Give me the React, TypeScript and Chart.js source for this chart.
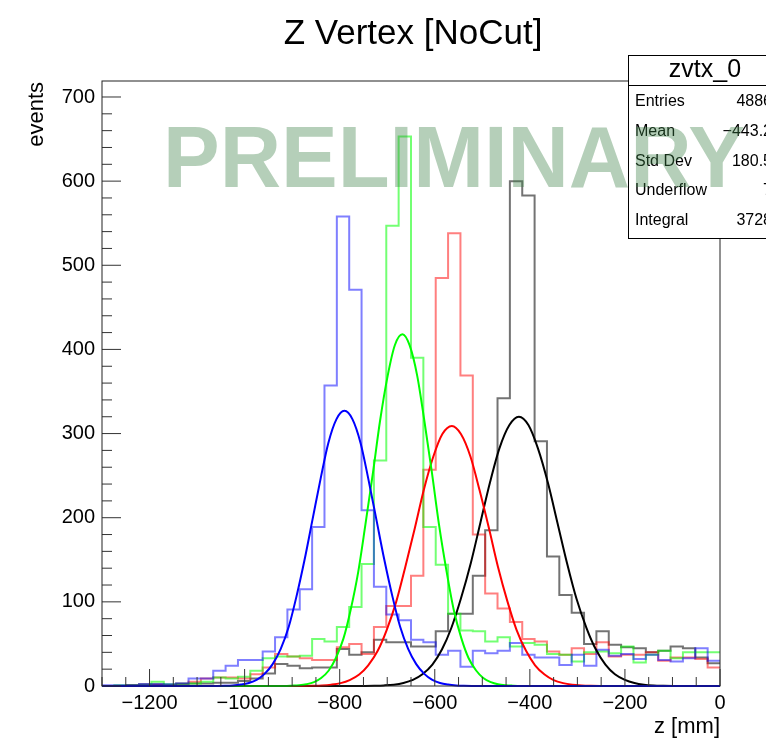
import { useEffect, useRef } from "react";
import { Chart, registerables } from "chart.js";

Chart.register(...registerables);

const FONT = '"Liberation Sans", Arial, Helvetica, sans-serif';

const TITLE = "Z Vertex [NoCut]";
const X_TITLE = "z [mm]";
const Y_TITLE = "events";
const WATERMARK = "PRELIMINARY";

const X_MIN = -1300;
const X_MAX = 0;
const BIN_WIDTH = 26;
const Y_MIN = 0;
const Y_MAX = 719;
const X_TICKS = [-1200, -1000, -800, -600, -400, -200, 0];
const Y_TICKS = [0, 100, 200, 300, 400, 500, 600, 700];
const X_MINOR_STEP = 50;
const Y_MINOR_STEP = 20;

// histogram bin contents (50 bins of 26 mm from -1300 to 0)
const blueCounts = [1, 1, 1, 2, 2, 2, 3, 9, 9, 18, 24, 31, 31, 41, 58, 91, 115, 189, 357, 558, 471, 209, 118, 85, 78, 55, 52, 37, 42, 23, 42, 39, 42, 51, 37, 34, 34, 25, 37, 24, 43, 36, 38, 32, 37, 31, 29, 33, 45, 30];
const greenCounts = [0, 1, 1, 1, 5, 2, 2, 3, 5, 10, 9, 11, 18, 33, 35, 35, 36, 56, 53, 70, 94, 145, 268, 547, 653, 390, 189, 144, 86, 66, 65, 53, 58, 47, 51, 49, 38, 37, 29, 40, 41, 39, 47, 28, 37, 42, 33, 40, 40, 40];
const redCounts = [0, 0, 1, 1, 1, 1, 2, 5, 9, 10, 10, 9, 14, 22, 38, 35, 33, 31, 31, 46, 50, 38, 70, 95, 95, 131, 257, 485, 538, 369, 180, 110, 92, 76, 56, 53, 41, 37, 45, 38, 52, 35, 37, 37, 40, 30, 34, 34, 32, 22];
const blackCounts = [0, 0, 1, 2, 2, 1, 3, 3, 3, 4, 4, 6, 9, 15, 26, 24, 21, 22, 22, 44, 37, 40, 55, 52, 52, 47, 47, 65, 86, 86, 131, 185, 342, 600, 583, 291, 154, 108, 87, 50, 65, 49, 46, 45, 40, 42, 47, 45, 34, 27];

// fit curves
const blueFitX = [-1300, -1058, -1041, -1025, -1008, -991, -974, -958, -941, -924, -907, -891, -874, -857, -840, -824, -807, -790, -773, -756, -740, -723, -706, -689, -673, -656, -639, -622, -606, -589, -572, -555, -539, -522, 0];
const blueFitY = [0, 0.1, 0.3, 0.7, 1.7, 3.6, 7.5, 14.4, 26.0, 44.2, 70.7, 106.2, 149.7, 198.3, 246.8, 288.6, 316.9, 327, 316.9, 288.6, 246.8, 198.3, 149.7, 106.2, 70.7, 44.2, 26.0, 14.4, 7.5, 3.6, 1.7, 0.7, 0.3, 0.1, 0];
const greenFitX = [-1300, -916, -901, -885, -870, -854, -839, -823, -808, -792, -777, -761, -746, -730, -715, -699, -684, -668, -653, -637, -622, -606, -591, -575, -560, -544, -529, -513, -498, -482, -467, -451, -436, -420, 0];
const greenFitY = [0, 0.1, 0.4, 0.9, 2.1, 4.6, 9.5, 18.4, 33.3, 56.6, 90.4, 135.7, 191.4, 253.5, 315.5, 368.9, 405.0, 418, 405.0, 368.9, 315.5, 253.5, 191.4, 135.7, 90.4, 56.6, 33.3, 18.4, 9.5, 4.6, 2.1, 0.9, 0.4, 0.1, 0];
const redFitX = [-1300, -876, -857, -837, -818, -798, -779, -759, -740, -720, -701, -681, -662, -642, -623, -603, -584, -564, -545, -525, -506, -486, -467, -447, -428, -408, -389, -369, -350, -330, -311, -291, -272, -252, 0];
const redFitY = [0, 0.1, 0.3, 0.7, 1.6, 3.4, 7.0, 13.6, 24.6, 41.8, 66.8, 100.3, 141.5, 187.4, 233.2, 272.7, 299.4, 309, 299.4, 272.7, 233.2, 187.4, 141.5, 100.3, 66.8, 41.8, 24.6, 13.6, 7.0, 3.4, 1.6, 0.7, 0.3, 0.1, 0];
const blackFitX = [-1300, -747, -727, -707, -686, -666, -646, -626, -605, -585, -565, -545, -524, -504, -484, -464, -443, -423, -403, -383, -362, -342, -322, -302, -281, -261, -241, -221, -200, -180, -160, -140, -119, -99, 0];
const blackFitY = [0, 0.1, 0.3, 0.7, 1.6, 3.6, 7.3, 14.0, 25.5, 43.3, 69.2, 103.9, 146.5, 194.1, 241.5, 282.4, 310.1, 320, 310.1, 282.4, 241.5, 194.1, 146.5, 103.9, 69.2, 43.3, 25.5, 14.0, 7.3, 3.6, 1.6, 0.7, 0.3, 0.1, 0];

// stats box
const STAT_NAME = "zvtx_0";
const STAT_LABELS = ["Entries", "Mean", "Std Dev", "Underflow", "Integral"];
const STAT_VALUES = ["4886", "\u2212443.2", "180.5", "7", "3728"];

const histPoints = (counts: number[]) => {
  const pts = counts.map((v, i) => ({ x: X_MIN + i * BIN_WIDTH, y: v }));
  pts.push({ x: X_MAX, y: counts[counts.length - 1] });
  return pts;
};
const curvePoints = (xs: number[], ys: number[]) => xs.map((x, i) => ({ x, y: ys[i] }));

const fmt = (v: number) => (v < 0 ? "\u2212" + Math.abs(v) : String(v));

const rootStyle = {
  id: "rootStyle",
  beforeDraw(chart: any) {
    const { ctx, width, height } = chart;
    ctx.save();
    ctx.fillStyle = "#ffffff";
    ctx.fillRect(0, 0, width, height);
    ctx.restore();
  },
  afterDatasetsDraw(chart: any) {
    const { ctx, chartArea: a, scales } = chart;
    const xs = scales.x;
    const ys = scales.y;
    ctx.save();
    ctx.strokeStyle = "#333333";
    ctx.lineWidth = 1;
    ctx.beginPath();
    for (let v = X_MIN; v <= X_MAX; v += X_MINOR_STEP) {
      const px = xs.getPixelForValue(v);
      const len = v % 200 === 0 ? 17 : 9;
      ctx.moveTo(px, a.bottom);
      ctx.lineTo(px, a.bottom - len);
    }
    for (let v = Y_MIN; v <= Y_MAX; v += Y_MINOR_STEP) {
      const py = ys.getPixelForValue(v);
      const len = v % 100 === 0 ? 19 : 10;
      ctx.moveTo(a.left, py);
      ctx.lineTo(a.left + len, py);
    }
    ctx.stroke();
    ctx.strokeStyle = "#222222";
    ctx.strokeRect(a.left, a.top, a.right - a.left, a.bottom - a.top);
    ctx.restore();
  },
  afterDraw(chart: any) {
    const { ctx, chartArea: a } = chart;
    ctx.save();
    ctx.fillStyle = "#000000";
    // title
    ctx.font = `35px ${FONT}`;
    ctx.textAlign = "center";
    ctx.textBaseline = "alphabetic";
    ctx.fillText(TITLE, 413, 44);
    // x title
    ctx.font = `22px ${FONT}`;
    ctx.textAlign = "right";
    ctx.fillText(X_TITLE, a.right, 733);
    // y title
    ctx.save();
    ctx.translate(37, a.top + 1);
    ctx.rotate(-Math.PI / 2);
    ctx.textAlign = "right";
    ctx.textBaseline = "middle";
    ctx.fillText(Y_TITLE, 0, 0);
    ctx.restore();

    // stats box
    const bx = 628, by = 55, bw = 200, bh = 183;
    ctx.fillStyle = "#ffffff";
    ctx.fillRect(bx, by, bw, bh);
    ctx.strokeStyle = "#000000";
    ctx.lineWidth = 1;
    ctx.strokeRect(bx + 0.5, by + 0.5, bw, bh);
    ctx.beginPath();
    ctx.moveTo(bx, 85.5);
    ctx.lineTo(bx + bw, 85.5);
    ctx.stroke();
    ctx.fillStyle = "#000000";
    ctx.font = `25px ${FONT}`;
    ctx.textAlign = "center";
    ctx.textBaseline = "middle";
    ctx.fillText(STAT_NAME, 705, 70);
    ctx.font = `16px ${FONT}`;
    STAT_LABELS.forEach((lab, i) => {
      const cy = 102 + i * 29.6;
      ctx.textAlign = "left";
      ctx.fillText(lab, 635, cy);
      ctx.textAlign = "right";
      ctx.fillText(STAT_VALUES[i], 772, cy);
    });

    // watermark
    ctx.font = `bold 87px ${FONT}`;
    ctx.textAlign = "left";
    ctx.textBaseline = "alphabetic";
    const w = ctx.measureText(WATERMARK).width;
    ctx.translate(163, 187);
    ctx.scale(582 / w, 1);
    ctx.fillStyle = "rgba(60,130,70,0.38)";
    ctx.fillText(WATERMARK, 0, 0);
    ctx.restore();
  },
};

export default function App() {
  const ref = useRef<HTMLCanvasElement>(null);
  useEffect(() => {
    if (!ref.current) return;
    const hist = (label: string, counts: number[], color: string) => ({
      label,
      data: histPoints(counts),
      borderColor: color,
      borderWidth: 2,
      pointRadius: 0,
      fill: false,
      stepped: true,
      order: 10,
    });
    const fit = (label: string, xs: number[], ys: number[], color: string, order: number) => ({
      label,
      data: curvePoints(xs, ys),
      borderColor: color,
      borderWidth: 2,
      pointRadius: 0,
      fill: false,
      cubicInterpolationMode: "monotone",
      order,
      clip: 2,
    });
    const chart = new Chart(ref.current, {
      type: "line",
      data: {
        datasets: [
          hist("blue", blueCounts, "rgba(0,0,255,0.5)"),
          hist("green", greenCounts, "rgba(0,255,0,0.55)"),
          hist("red", redCounts, "rgba(255,0,0,0.5)"),
          hist("black", blackCounts, "rgba(0,0,0,0.55)"),
          fit("black fit", blackFitX, blackFitY, "#000000", 4),
          fit("red fit", redFitX, redFitY, "#ff0000", 3),
          fit("green fit", greenFitX, greenFitY, "#00ff00", 2),
          fit("blue fit", blueFitX, blueFitY, "#0000ff", 1),
        ] as any,
      },
      options: {
        responsive: false,
        animation: false,
        devicePixelRatio: 1,
        events: [],
        layout: { padding: { left: 0, top: 81, right: 46, bottom: 0 } },
        plugins: {
          legend: { display: false },
          tooltip: { enabled: false },
          title: { display: false },
        },
        scales: {
          x: {
            type: "linear",
            min: X_MIN,
            max: X_MAX,
            grid: { display: false, drawTicks: false },
            border: { display: false },
            ticks: {
              color: "#000000",
              font: { family: FONT, size: 20 },
              padding: 5,
              maxRotation: 0,
              autoSkip: false,
              callback: (v: any) => fmt(Number(v)),
            },
            afterBuildTicks: (s: any) => {
              s.ticks = X_TICKS.map((v) => ({ value: v }));
            },
            afterFit: (s: any) => {
              s.height = 52;
            },
          },
          y: {
            type: "linear",
            min: Y_MIN,
            max: Y_MAX,
            grid: { display: false, drawTicks: false },
            border: { display: false },
            ticks: {
              color: "#000000",
              font: { family: FONT, size: 20 },
              padding: 7,
              autoSkip: false,
              callback: (v: any) => String(v),
            },
            afterBuildTicks: (s: any) => {
              s.ticks = Y_TICKS.map((v) => ({ value: v }));
            },
            afterFit: (s: any) => {
              s.width = 102;
            },
          },
        },
      } as any,
      plugins: [rootStyle as any],
    });
    return () => chart.destroy();
  }, []);
  return (
    <div style={{ position: "absolute", left: 0, top: 0, width: 766, height: 738, background: "#ffffff" }}>
      <canvas ref={ref} width={766} height={738} style={{ display: "block", width: 766, height: 738 }} />
    </div>
  );
}
